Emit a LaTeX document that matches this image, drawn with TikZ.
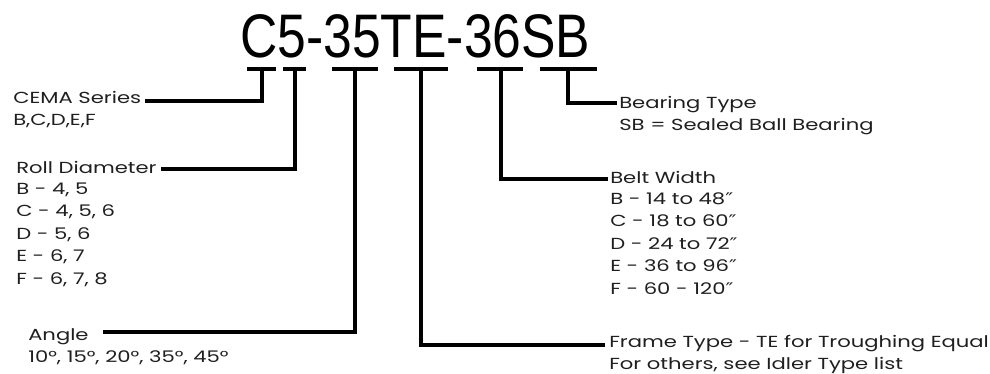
\documentclass[tikz,border=0pt]{standalone}
\usepackage{fontspec}
\setmainfont{Poppins}
\newfontfamily\codefont{Liberation Sans}
\newfontfamily\symfont{DejaVu Sans}
\newcommand{\inch}{{\symfont ″}}
\usetikzlibrary{positioning}

\begin{document}
\begin{tikzpicture}[x=1pt,y=-1pt,
  every node/.style={font=\fontsize{16}{22.4}\selectfont,align=left,inner sep=0pt,
                     text=black!88,anchor=base west,xscale=1.32},
  code/.style={font=\codefont\fontsize{61.5}{62}\selectfont,xscale=0.84/1.32,text=black},
  head/.style={},
  vals/.style={},
  bar/.style={line width=3.3pt,black},
  lead/.style={line width=3.3pt,black},
]
\useasboundingbox (0,0) rectangle (990,373);
\node[code] at (240,57) (code) {C5-35TE-36SB};

\coordinate (s1) at (262,69);
\coordinate (s2) at (295,69);
\coordinate (s3) at (355,69);
\coordinate (s4) at (421,69);
\coordinate (s5) at (501,69);
\coordinate (s6) at (568,69);

\draw[bar] ([xshift=-15pt]s1) -- ([xshift=14pt]s1);
\draw[bar] ([xshift=-12pt]s2) -- ([xshift=11pt]s2);
\draw[bar] ([xshift=-23pt]s3) -- ([xshift=23pt]s3);
\draw[bar] ([xshift=-27pt]s4) -- ([xshift=27pt]s4);
\draw[bar] ([xshift=-24pt]s5) -- ([xshift=22pt]s5);
\draw[bar] ([xshift=-28pt]s6) -- ([xshift=29pt]s6);

\node[head] at (13,103)  (cema)     {CEMA Series};
\node[vals] at (13,125)  (cemaval)  {B,C,D,E,F};
\node[head] at (16,173)  (roll)     {Roll Diameter};
\node[vals] at (16,284)  (rollval)  {B - 4, 5\\C - 4, 5, 6\\D - 5, 6\\E - 6, 7\\F - 6, 7, 8};
\node[head] at (28,340)  (angle)    {Angle};
\node[vals] at (28,362)  (angleval) {10°, 15°, 20°, 35°, 45°};

\node[head] at (619,108) (bearing)  {Bearing Type};
\node[vals] at (619,130) (bearval)  {SB = Sealed Ball Bearing};
\node[head] at (610,183) (belt)     {Belt Width};
\node[vals] at (610,294) (beltval)  {B - 14 to 48\inch\\C - 18 to 60\inch\\D - 24 to 72\inch\\E - 36 to 96\inch\\F - 60 - 120\inch};
\node[head] at (609,347) (frame)    {Frame Type - TE for Troughing Equal};
\node[vals] at (609,369) (frameval) {For others, see Idler Type list};

\draw[lead] (s1) |- ([xshift=4pt,yshift=2pt]cema.base east);
\draw[lead] (s2) |- ([xshift=4pt,yshift=4pt]roll.base east);
\draw[lead] (s3) |- ([xshift=14pt,yshift=8pt]angle.base east);
\draw[lead] (s4) |- ([xshift=-4pt,yshift=2pt]frame.base west);
\draw[lead] (s5) |- ([xshift=-2pt,yshift=4pt]belt.base west);
\draw[lead] (s6) |- ([xshift=-2pt,yshift=5pt]bearing.base west);
\end{tikzpicture}
\end{document}
